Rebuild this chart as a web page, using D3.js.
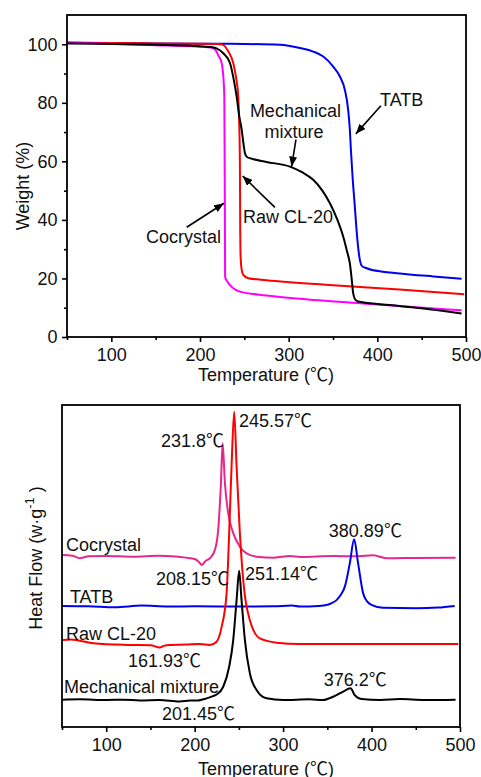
<!DOCTYPE html>
<html>
<head>
<meta charset="utf-8">
<script src="https://cdn.jsdelivr.net/npm/d3@7"></script>
<style>
  body { margin: 0; background: #fff; }
  svg { display: block; }
  text { font-family: "Liberation Sans", Arial, "Noto Sans CJK SC", sans-serif; fill: #111; }
</style>
</head>
<body>
<div id="chart"></div>
<script>
// tick values
var tempTicks = [100, 200, 300, 400, 500];
var tempMinor = [50, 150, 250, 350, 450];
var weightTicks = [0, 20, 40, 60, 80, 100];
var weightMinor = [10, 30, 50, 70, 90];

// TGA curves: [temperature, weight %]
var tgaTATB = [[50,100.5],[100,100.4],[150,100.3],[200,100.2],[250,100.1],[290,99.8],[312.7,98.7],[327.7,97.5],[339,95.8],[350.2,92.4],[357.8,89],[363.4,84.4],[367.1,77.6],[369,70.8],[370.2,63.9],[372,55],[374.5,45],[377,35],[379,29],[380.5,26],[382.5,24.3],[388,23.5],[406,22.3],[422,21.8],[463,20.7],[495,19.9]];
var tgaRawCL20 = [[50,100.5],[100,100.4],[150,100.3],[200,100.2],[220,100.1],[226,99.8],[232,97.5],[237.5,93.6],[241,88],[243.1,82.2],[244.3,72],[245,59.4],[245.3,40],[245.8,27.5],[247,23],[248.8,21.2],[254.4,20.1],[275,19.4],[350,17.7],[425,16.2],[498,14.6]];
var tgaCocrystal = [[50,100.6],[100,100.2],[150,99.7],[190,99.3],[212,98.9],[217,98.2],[221,96],[224.4,93.6],[226.5,88],[227.4,82.2],[227.8,60],[228.1,40],[228.3,20.6],[230,19.3],[245,15.5],[275,14.2],[312,13.1],[388,11.4],[495,9.1]];
var tgaMixture = [[50,100.3],[100,100.1],[150,99.8],[190,99.5],[210,99.1],[218.7,98.6],[226,97],[233.8,93.6],[238,88],[241.3,82.2],[244,76],[247,70.8],[249.5,65],[250.7,62.8],[253,61.5],[256.3,61.1],[275,59.8],[301.4,58.2],[315,56.3],[327.7,53.7],[338,50],[346.5,45.7],[355,40],[361.5,34.3],[366,29],[369,25.2],[371,20],[372.8,14.9],[375,12.8],[378.4,12.1],[414,10.9],[450,9.8],[495,8]];

// DSC curves: [temperature, heat flow (arbitrary, stacked)]
var dscCocrystal = [[50,53.4],[62,53.2],[70,52.4],[80,53],[100,53.1],[130,52.9],[160,53.2],[190,52.6],[200,52.2],[205,51.2],[208,50.3],[212,51.5],[217.2,52.4],[222.9,55],[226.6,61.2],[229.7,75.7],[231.6,88.1],[234.2,75.7],[237.9,66.4],[243.6,60.2],[251.1,56],[258.7,53.9],[270,52.9],[290,52.6],[307.6,53.1],[320,52.8],[356.6,53.1],[385,53],[401.8,53.3],[416.9,52.4],[450,52.5],[495,52.6]];
var dscTATB = [[50,37.6],[80,37.5],[110,37.2],[140,37.7],[170,37.4],[200,37.5],[250,37.4],[290,37.5],[310,37.7],[318.9,37.4],[340,37.6],[349.1,37.9],[355,38.5],[360.4,39.4],[365,41],[369.8,43.6],[375.4,50.8],[380.3,58.3],[384.8,50.8],[390.5,41.5],[395,39],[399.9,37.9],[413,37],[450.8,36.9],[475,37.1],[494,37.6]];
var dscRawCL20 = [[50,27],[60,27.2],[70,26.8],[85.4,26],[123,25.5],[150,25.4],[160.7,24.7],[165,25.2],[172,25.5],[190,25.6],[206,25.8],[217.2,25.5],[224.8,26.5],[230.5,31.1],[236.1,41.5],[239,60.2],[241.7,80.8],[244.7,97.9],[247.4,80.8],[251.1,60.2],[255.6,43.6],[262.4,33.2],[273.7,27.5],[292.6,26.2],[318.9,25.8],[400,25.8],[498,25.8]];
var dscMixture = [[50,8.5],[70,8.6],[100.5,8.4],[120,8.5],[138,8.2],[160,8.4],[183,7.9],[195,8.2],[202,8.2],[213.5,8.9],[220.6,9.6],[224.8,10.1],[232.3,12.5],[239,18.7],[243.6,27],[247.4,39.4],[250.3,48.5],[253,39.4],[256.8,27],[262.4,16.7],[270,11.5],[281.3,8.9],[300,8.4],[330,8.6],[345,8.4],[356.6,9.4],[367.9,11],[376.2,12],[381,9.9],[388.6,8.7],[410,8.4],[432,8.7],[460,8.4],[495,8.5]];

// annotations in data units
var tgaLabels = [
  { text: "TATB", x: 403, y: 79, anchor: "start" },
  { text: "Mechanical", x: 307.6, y: 75.2, anchor: "middle" },
  { text: "mixture", x: 306, y: 68, anchor: "middle" },
  { text: "Raw CL-20", x: 248.4, y: 39, anchor: "start" },
  { text: "Cocrystal", x: 139, y: 32.1, anchor: "start" }
];
var tgaArrows = [
  { from: [404, 79], to: [375.8, 69.4] },
  { from: [308.2, 67.4], to: [303.3, 58.2] },
  { from: [284.5, 44.3], to: [248.1, 55] },
  { from: [185, 37.5], to: [227, 45.7] }
];
var dscLabels = [
  { text: "245.57℃", x: 250, y: 93.2 },
  { text: "231.8℃", x: 161.9, y: 87 },
  { text: "380.89℃", x: 351.7, y: 59 },
  { text: "Cocrystal", x: 54.5, y: 54.7 },
  { text: "208.15℃", x: 156.2, y: 44.1 },
  { text: "251.14℃", x: 256.8, y: 45.7 },
  { text: "TATB", x: 59, y: 38.5 },
  { text: "Raw CL-20", x: 54.5, y: 27 },
  { text: "161.93℃", x: 124.6, y: 18.6 },
  { text: "Mechanical mixture", x: 52.3, y: 10.6 },
  { text: "376.2℃", x: 346, y: 12.7 },
  { text: "201.45℃", x: 163, y: 2.2 }
];

var W = 481, H = 777;
var svg = d3.select("#chart").append("svg")
    .attr("width", W)
    .attr("height", H);
svg.append("rect").attr("width", W).attr("height", H).attr("fill", "#fff");

svg.append("defs").append("marker")
    .attr("id", "arrow")
    .attr("markerUnits", "userSpaceOnUse")
    .attr("viewBox", "0 0 10 8")
    .attr("refX", 10)
    .attr("refY", 4)
    .attr("markerWidth", 10)
    .attr("markerHeight", 8)
    .attr("orient", "auto")
    .append("path")
    .attr("d", "M0,0L10,4L0,8Z")
    .attr("fill", "#000");

function drawFrame(g, x, y, titleOffset) {
    var x0 = x.range()[0], x1 = x.range()[1];
    var y0 = y.range()[0], y1 = y.range()[1];
    g.append("rect")
        .attr("x", x0).attr("y", y1)
        .attr("width", x1 - x0).attr("height", y0 - y1)
        .attr("fill", "none")
        .attr("stroke", "#000")
        .attr("stroke-width", 1.8);

    var major = g.append("g")
        .attr("transform", "translate(0," + y0 + ")")
        .call(d3.axisBottom(x).tickValues(tempTicks).tickSize(5).tickPadding(6).tickSizeOuter(0));
    var minor = g.append("g")
        .attr("transform", "translate(0," + y0 + ")")
        .call(d3.axisBottom(x).tickValues(tempMinor).tickSize(3).tickFormat(""));
    [major, minor].forEach(function (a) {
        a.select(".domain").remove();
        a.selectAll("line").attr("stroke", "#000").attr("stroke-width", 1.6);
    });
    major.selectAll("text").attr("font-size", 18).attr("fill", "#111");

    g.append("text")
        .attr("x", 266)
        .attr("y", y0 + titleOffset)
        .attr("text-anchor", "middle")
        .attr("font-size", 18)
        .text("Temperature (℃)");
}

function drawCurve(g, x, y, data, colour) {
    var line = d3.line()
        .x(function (d) { return x(d[0]); })
        .y(function (d) { return y(d[1]); })
        .curve(d3.curveMonotoneX);
    g.append("path")
        .datum(data)
        .attr("d", line)
        .attr("fill", "none")
        .attr("stroke", colour)
        .attr("stroke-width", 2)
        .attr("stroke-linejoin", "round");
}

// ---- top: TGA ----
var x1 = d3.scaleLinear().domain([50, 500]).range([67, 466]);
var y1 = d3.scaleLinear().domain([0, 110]).range([337, 15]);
var g1 = svg.append("g");

drawCurve(g1, x1, y1, tgaTATB, "#0000f0");
drawCurve(g1, x1, y1, tgaRawCL20, "#f00");
drawCurve(g1, x1, y1, tgaCocrystal, "#f0f");
drawCurve(g1, x1, y1, tgaMixture, "#000");
drawFrame(g1, x1, y1, 44);

var yMajor = g1.append("g")
    .attr("transform", "translate(67,0)")
    .call(d3.axisLeft(y1).tickValues(weightTicks).tickSize(5).tickPadding(4.5).tickSizeOuter(0));
var yMinor = g1.append("g")
    .attr("transform", "translate(67,0)")
    .call(d3.axisLeft(y1).tickValues(weightMinor).tickSize(3).tickFormat(""));
[yMajor, yMinor].forEach(function (a) {
    a.select(".domain").remove();
    a.selectAll("line").attr("stroke", "#000").attr("stroke-width", 1.6);
});
yMajor.selectAll("text").attr("font-size", 18).attr("fill", "#111");

g1.append("text")
    .attr("transform", "translate(29,186) rotate(-90)")
    .attr("text-anchor", "middle")
    .attr("font-size", 18)
    .text("Weight (%)");

g1.selectAll(".tga-label")
    .data(tgaLabels)
    .enter().append("text")
    .attr("class", "tga-label")
    .attr("x", function (d) { return x1(d.x); })
    .attr("y", function (d) { return y1(d.y); })
    .attr("text-anchor", function (d) { return d.anchor; })
    .attr("font-size", 18)
    .text(function (d) { return d.text; });

g1.selectAll(".tga-arrow")
    .data(tgaArrows)
    .enter().append("line")
    .attr("class", "tga-arrow")
    .attr("x1", function (d) { return x1(d.from[0]); })
    .attr("y1", function (d) { return y1(d.from[1]); })
    .attr("x2", function (d) { return x1(d.to[0]); })
    .attr("y2", function (d) { return y1(d.to[1]); })
    .attr("stroke", "#000")
    .attr("stroke-width", 1.6)
    .attr("marker-end", "url(#arrow)");

// ---- bottom: DSC ----
var x2 = d3.scaleLinear().domain([50, 500]).range([62, 460]);
var y2 = d3.scaleLinear().domain([0, 100]).range([727, 405]);
var g2 = svg.append("g");

drawCurve(g2, x2, y2, dscCocrystal, "#e6288c");
drawCurve(g2, x2, y2, dscTATB, "#0000f0");
drawCurve(g2, x2, y2, dscRawCL20, "#f00");
drawCurve(g2, x2, y2, dscMixture, "#000");
drawFrame(g2, x2, y2, 47.5);

var hf = g2.append("text")
    .attr("transform", "translate(42,558) rotate(-90)")
    .attr("text-anchor", "middle")
    .attr("font-size", 18);
hf.append("tspan").text("Heat Flow (w·g");
hf.append("tspan").attr("font-size", 13).attr("dy", -8).text("-1");
hf.append("tspan").attr("dy", 8).text(" )");

g2.selectAll(".dsc-label")
    .data(dscLabels)
    .enter().append("text")
    .attr("class", "dsc-label")
    .attr("x", function (d) { return x2(d.x); })
    .attr("y", function (d) { return y2(d.y); })
    .attr("font-size", 18)
    .text(function (d) { return d.text; });
</script>
</body>
</html>
